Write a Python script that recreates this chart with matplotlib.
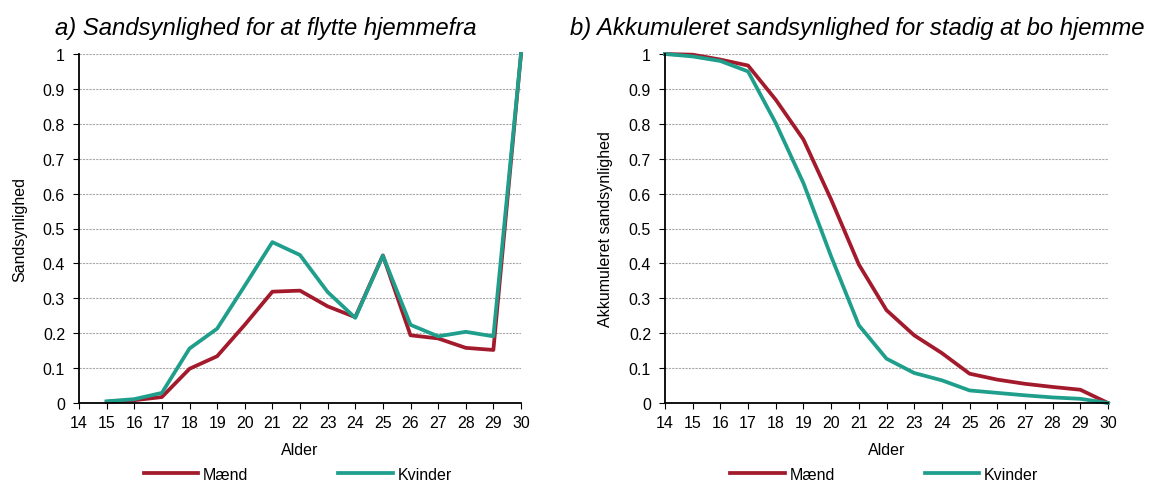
import numpy as np
import matplotlib.pyplot as plt

plt.rcParams['font.family'] = ['Liberation Sans', 'DejaVu Sans']

alder = np.arange(14, 31)
alder_a = np.arange(15, 31)

# a) sandsynlighed for at flytte hjemmefra (alder 15-30)
flyt_maend = [0.003, 0.008, 0.017, 0.098, 0.134, 0.224, 0.319, 0.322, 0.277, 0.246,
              0.423, 0.194, 0.185, 0.158, 0.152, 1.0]
flyt_kvinder = [0.005, 0.011, 0.029, 0.156, 0.213, 0.336, 0.461, 0.424, 0.318, 0.244,
                0.422, 0.224, 0.191, 0.204, 0.191, 1.0]

# b) akkumuleret sandsynlighed for stadig at bo hjemme (alder 14-30)
hjemme_maend = [1.0, 0.998, 0.984, 0.967, 0.869, 0.755, 0.583, 0.397, 0.266, 0.194,
                0.143, 0.084, 0.067, 0.055, 0.046, 0.038, 0.0]
hjemme_kvinder = [1.0, 0.993, 0.980, 0.950, 0.802, 0.630, 0.420, 0.223, 0.127, 0.086,
                  0.065, 0.036, 0.029, 0.022, 0.016, 0.012, 0.0]

RED = '#A21A2C'
TEAL = '#1F9E8C'
FS = 11.5

fig = plt.figure(figsize=(11.52, 4.81), dpi=100)
ax1 = fig.add_axes([79 / 1152, 1 - 404 / 481, 442 / 1152, 349 / 481])
ax2 = fig.add_axes([665 / 1152, 1 - 404 / 481, 443 / 1152, 349 / 481])


def style_axis(ax, ylabel, title, title_x):
    ax.set_xlim(14, 30)
    ax.set_ylim(0, 1)
    ax.set_xticks(alder)
    ax.set_yticks(np.arange(0, 1.01, 0.1))
    ax.set_yticklabels(['0'] + ['%.1f' % v for v in np.arange(0.1, 0.95, 0.1)] + ['1'])
    ax.tick_params(labelsize=FS, length=4, color='black')
    ax.tick_params(axis='x', pad=5)
    ax.tick_params(axis='y', pad=6)
    ax.yaxis.grid(True, linestyle=(0, (2, 1)), color='#a8a8a8', linewidth=0.8)
    ax.set_axisbelow(True)
    for s in ['top', 'right']:
        ax.spines[s].set_visible(False)
    ax.spines['left'].set_linewidth(1.3)
    ax.spines['bottom'].set_linewidth(1.3)
    ax.set_xlabel('Alder', fontsize=FS, labelpad=8)
    ax.set_ylabel(ylabel, fontsize=FS, labelpad=11)
    fig.text(title_x, 1 - 28 / 481, title, fontsize=17.2, style='italic', va='center')
    ax.legend(loc='center', bbox_to_anchor=(0.495, -0.205), ncol=2, frameon=False,
              fontsize=FS, handlelength=3.4, handletextpad=0.3, columnspacing=5.65)


ax1.plot(alder_a, flyt_maend, color=RED, lw=2.7, label='Mænd', clip_on=False)
ax1.plot(alder_a, flyt_kvinder, color=TEAL, lw=2.7, label='Kvinder', clip_on=False)
style_axis(ax1, 'Sandsynlighed', 'a) Sandsynlighed for at flytte hjemmefra', 55 / 1152)

ax2.plot(alder, hjemme_maend, color=RED, lw=2.7, label='Mænd', clip_on=False)
ax2.plot(alder, hjemme_kvinder, color=TEAL, lw=2.7, label='Kvinder', clip_on=False)
style_axis(ax2, 'Akkumuleret sandsynlighed', 'b) Akkumuleret sandsynlighed for stadig at bo hjemme', 570 / 1152)

fig.savefig('out.png', dpi=100)
